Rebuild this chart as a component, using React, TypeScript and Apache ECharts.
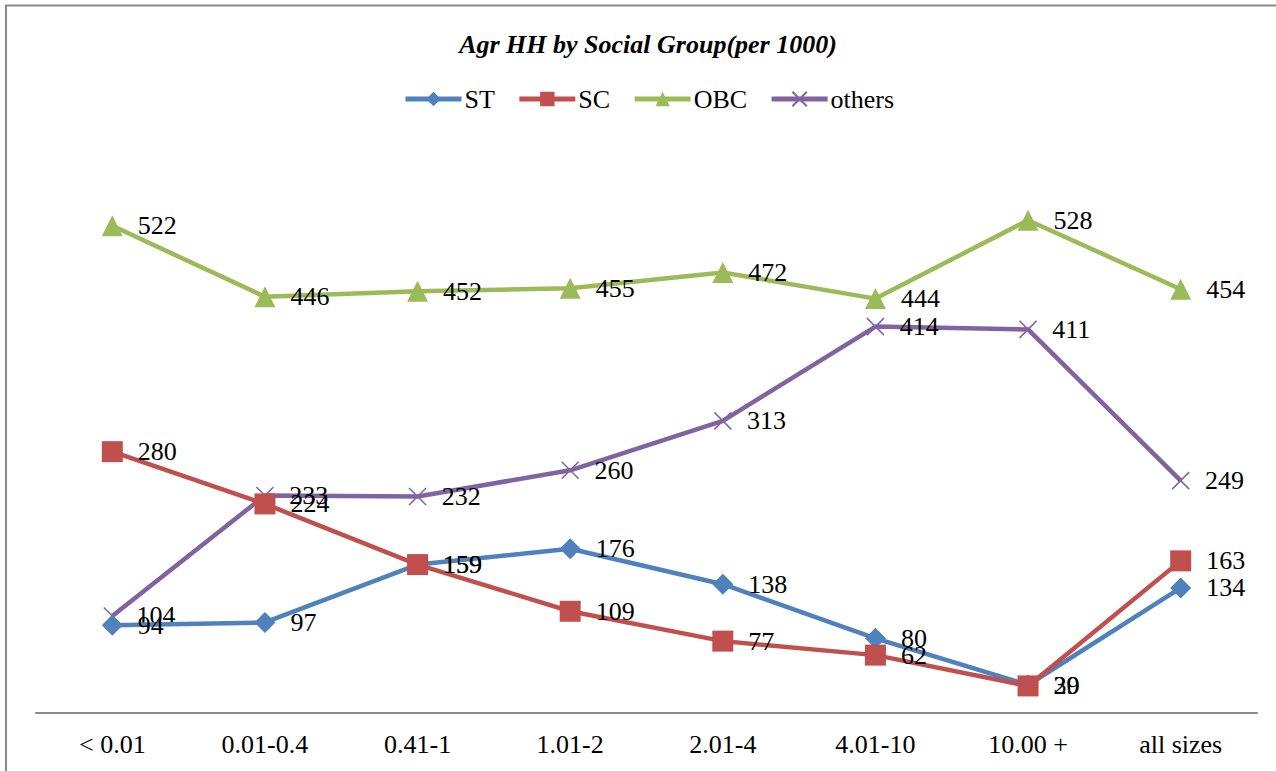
import React, { useEffect, useRef } from "react";
import * as echarts from "echarts";

const categories = ["< 0.01", "0.01-0.4", "0.41-1", "1.01-2", "2.01-4", "4.01-10", "10.00 +", "all sizes"];
const stValues = [94, 97, 159, 176, 138, 80, 30, 134];
const scValues = [280, 224, 159, 109, 77, 62, 29, 163];
const obcValues = [522, 446, 452, 455, 472, 444, 528, 454];
const othersValues = [104, 233, 232, 260, 313, 414, 411, 249];

const FONT = "Liberation Serif, Times New Roman, serif";

export default function App() {
  const ref = useRef<HTMLDivElement>(null);
  useEffect(() => {
    document.body.style.margin = "0";
    const chart = echarts.init(ref.current!, null, { renderer: "svg" });
    const label = {
      show: true,
      position: "right" as const,
      distance: 15,
      color: "#000",
      fontFamily: FONT,
      fontSize: 26,
    };
    const mk = (name: string, data: number[], color: string, symbol: string, size: number, extra: any = {}) => ({
      name,
      type: "line",
      data,
      symbol,
      symbolSize: size,
      lineStyle: { color, width: 4.5 },
      itemStyle: { color, ...(extra.itemStyle || {}) },
      label,
      z: extra.z || 2,
    });
    chart.setOption({
      animation: false,
      textStyle: { fontFamily: FONT },
      title: {
        text: "Agr HH by Social Group(per 1000)",
        left: 643,
        textAlign: "center",
        top: 26,
        textStyle: { fontFamily: FONT, fontSize: 26, fontWeight: "bold", fontStyle: "italic", color: "#000" },
      },
      legend: {
        top: 81,
        left: 398,
        itemWidth: 56,
        itemHeight: 18,
        itemGap: 22,
        lineStyle: { width: 5 },
        textStyle: { fontFamily: FONT, fontSize: 26, color: "#000", padding: [0, 0, 0, -2] },
        data: ["ST", "SC", "OBC", "others"],
      },
      graphic: [
        {
          type: "rect",
          shape: { x: 6, y: 5.5, width: 1400, height: 900 },
          style: { fill: "none", stroke: "#8a8a8a", lineWidth: 2 },
          silent: true,
        },
      ],
      grid: { left: 36, right: 19, top: 153, bottom: 58 },
      xAxis: {
        type: "category",
        data: categories,
        boundaryGap: true,
        axisLine: { lineStyle: { color: "#8a8a8a", width: 2 } },
        axisTick: { show: false },
        axisLabel: { color: "#000", fontFamily: FONT, fontSize: 26, margin: 18 },
      },
      yAxis: {
        type: "value",
        min: 0,
        max: 600,
        show: false,
        splitLine: { show: false },
      },
      series: [
        mk("ST", stValues, "#4F81BD", "diamond", 21, { z: 3 }),
        mk("SC", scValues, "#C0504D", "rect", 21, { z: 4 }),
        mk("OBC", obcValues, "#9BBB59", "triangle", 21),
        mk("others", othersValues, "#8064A2", "path://M0,0L10,10M10,0L0,10", 17, {
          itemStyle: { borderColor: "#8064A2", borderWidth: 1.5 },
        }),
      ],
    });
    return () => chart.dispose();
  }, []);
  return <div ref={ref} style={{ width: 1276, height: 771 }} />;
}
